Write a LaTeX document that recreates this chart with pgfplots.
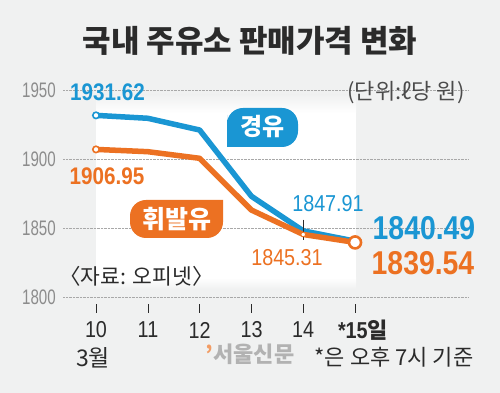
\documentclass[border=0pt]{standalone}
\usepackage{pgfplots}
\pgfplotsset{compat=1.18}
\usepackage{fontspec}
\setmainfont{Liberation Sans}
\newfontfamily\kr{Noto Sans CJK KR}
\newfontfamily\numc[FakeStretch=0.86]{Liberation Sans}
\newfontfamily\numy[FakeStretch=0.72]{Liberation Sans}
\definecolor{bg}{HTML}{F0F1F1}
\definecolor{cblue}{HTML}{1A96D3}
\definecolor{corange}{HTML}{EC7122}
\definecolor{dark}{HTML}{2B2B2B}
\definecolor{ygray}{HTML}{8C8C8C}
\definecolor{gridc}{HTML}{A8A8A8}
\begin{document}
\begin{tikzpicture}[x=1pt,y=1pt]
\useasboundingbox (0,0) rectangle (500,393);
\fill[bg] (0,0) rectangle (500,393);
% white panel
\shade[top color=bg, bottom color=white] (96,280) rectangle (356,298);
\fill[white] (96,115) rectangle (356,280.2);
\shade[top color=white, bottom color=bg] (96,104) rectangle (356,115.2);
\begin{axis}[
  at={(63pt,96pt)}, anchor=south west,
  scale only axis, width=405pt, height=207pt,
  xmin=9.363, xmax=17.18, ymin=1800, ymax=1950,
  axis line style={draw=none}, tick style={draw=none},
  xtick=\empty,
  ytick={1800,1850,1900,1950},
  yticklabels={1800,1850,1900,1950},
  yticklabel style={font=\numy\fontsize{21}{21}\selectfont, text=ygray, anchor=east, inner sep=0pt, xshift=-7pt},
  ymajorgrids, grid style={gridc, densely dotted, line width=0.6pt},
  clip=false,
]
\addplot[cblue, line width=5.5pt, line join=round] coordinates {
 (10,1931.62) (11,1929.5) (12,1921) (13,1873) (14,1847.91) (15,1840.49)};
\addplot[corange, line width=5.5pt, line join=round] coordinates {
 (10,1906.95) (11,1905.3) (12,1900.5) (13,1863) (14,1845.31) (15,1839.54)};
\draw[dark, line width=0.7pt] (axis cs:14,1856) -- (axis cs:14,1841);
\addplot[only marks, mark=*, mark size=3.2pt, mark options={fill=white, draw=cblue, line width=1.6pt}] coordinates {(10,1931.62)};
\addplot[only marks, mark=*, mark size=3.2pt, mark options={fill=white, draw=corange, line width=1.6pt}] coordinates {(10,1906.95)};
\addplot[only marks, mark=*, mark size=2.3pt, mark options={fill=white, draw=corange, line width=0.8pt}] coordinates {(14,1845.31)};
\addplot[only marks, mark=*, mark size=6pt, mark options={fill=white, draw=corange, line width=2.6pt}] coordinates {(15,1839.54)};
\end{axis}
% x ticks
\foreach \xx in {96,148,199.5,251.5,303,355} {\draw[dark, line width=0.9pt] (\xx,80) -- (\xx,89);}
\foreach \xx/\lab in {96/10,148/11,199.5/12,251.5/13,303/14} {
  \node[text=dark, font=\numc\fontsize{23}{23}\selectfont, inner sep=0pt] at (\xx,63) {\lab};}
\node[text=dark, inner sep=0pt] at (363,63) {{\numc\bfseries\fontsize{23}{23}\selectfont *15}{\kr\bfseries\fontsize{22}{22}\selectfont 일}};
\node[text=dark, inner sep=0pt, font=\kr\fontsize{23}{23}\selectfont] at (93,35) {3월};
% title
\node[text=dark, inner sep=0pt, font=\kr\bfseries\fontsize{31}{31}\selectfont] at (250,352) {국내 주유소 판매가격 변화};
\node[text=dark!85, inner sep=0pt, font=\kr\fontsize{22}{22}\selectfont] at (406,300) {(단위:ℓ당 원)};
% value labels
\node[text=cblue, inner sep=0pt, font=\numc\bfseries\fontsize{24}{24}\selectfont] at (107.5,300.5) {1931.62};
\node[text=corange, inner sep=0pt, font=\numc\bfseries\fontsize{24}{24}\selectfont] at (107,216.5) {1906.95};
\node[text=cblue, inner sep=0pt, font=\numc\fontsize{23}{23}\selectfont] at (328,189) {1847.91};
\node[text=corange, inner sep=0pt, font=\numc\fontsize{23}{23}\selectfont] at (287,135) {1845.31};
\node[text=cblue, inner sep=0pt, font=\numc\bfseries\fontsize{33}{33}\selectfont] at (424,164.5) {1840.49};
\node[text=corange, inner sep=0pt, font=\numc\bfseries\fontsize{33}{33}\selectfont] at (423,129.5) {1839.54};
% bubbles
\fill[cblue] (262.5,246) [rounded corners=16pt] -- (298,246) -- (298,285) -- (227,285) -- (227,262) [sharp corners] -- (227,246) -- cycle;
\node[text=white, inner sep=0pt, font=\kr\bfseries\fontsize{24}{24}\selectfont] at (262.5,266) {경유};
\fill[corange] (176.5,155) [rounded corners=16pt] -- (130,155) -- (130,193) -- (205,193) [sharp corners] -- (223,193) -- (223,175) [rounded corners=16pt] -- (223,155) -- cycle;
\node[text=white, inner sep=0pt, font=\kr\bfseries\fontsize{25}{25}\selectfont] at (176.5,174) {휘발유};
% source and notes
\node[text=dark, inner sep=0pt, font=\kr\fontsize{21.5}{21.5}\selectfont] at (136.5,117) {〈자료: 오피넷〉};
\node[text=black!30, inner sep=0pt, font=\kr\bfseries\fontsize{22}{22}\selectfont] at (250,39) {\textcolor{corange!70}{’}서울신문};
\node[text=dark, inner sep=0pt, font=\kr\fontsize{22}{22}\selectfont] at (394,36) {*은 오후 7시 기준};
\end{tikzpicture}
\end{document}
